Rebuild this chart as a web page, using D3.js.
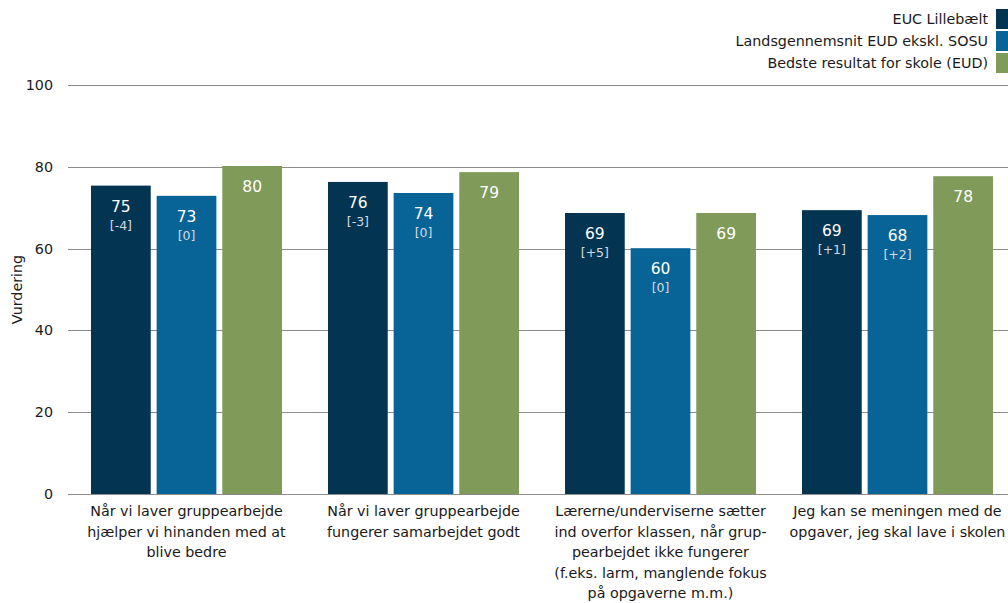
<!DOCTYPE html>
<html>
<head>
<meta charset="utf-8">
<script src="https://cdn.jsdelivr.net/npm/d3@7"></script>
<style>
  body { margin: 0; background: #fff; }
  svg { font-family: "DejaVu Sans", sans-serif; }
</style>
</head>
<body>
<div id="chart"></div>
<script>
// chart data
const categories = [
    ['Når vi laver gruppearbejde', 'hjælper vi hinanden med at', 'blive bedre'],
    ['Når vi laver gruppearbejde', 'fungerer samarbejdet godt'],
    ['Lærerne/underviserne sætter', 'ind overfor klassen, når grup-', 'pearbejdet ikke fungerer', '(f.eks. larm, manglende fokus', 'på opgaverne m.m.)'],
    ['Jeg kan se meningen med de', 'opgaver, jeg skal lave i skolen']
];
const seriesNames = ['EUC Lillebælt', 'Landsgennemsnit EUD ekskl. SOSU', 'Bedste resultat for skole (EUD)'];
const seriesColors = ['#033452', '#086497', '#7f9a59'];
const eucVals = [75.4, 76.3, 68.7, 69.4];
const landsVals = [72.9, 73.6, 60.1, 68.2];
const bedsteVals = [80.2, 78.7, 68.7, 77.7];
const eucDiff = ['[-4]', '[-3]', '[+5]', '[+1]'];
const landsDiff = ['[0]', '[0]', '[0]', '[+2]'];
const yTicks = [0, 20, 40, 60, 80, 100];

const width = 1008, height = 603;
const margin = { left: 68, top: 85, bottom: 109 };

const svg = d3.select('#chart')
    .append('svg')
    .attr('width', width)
    .attr('height', height);

const x0 = d3.scaleBand()
    .domain(d3.range(categories.length))
    .range([margin.left, margin.left + 237 * categories.length]);

const x1 = d3.scaleBand()
    .domain([0, 1, 2])
    .range([23, 237 - 23])
    .paddingInner(0.09);

const y = d3.scaleLinear()
    .domain([0, 100])
    .range([height - margin.bottom, margin.top]);

// gridlines + y ticks
svg.append('g')
    .selectAll('line')
    .data(yTicks)
    .join('line')
    .attr('x1', margin.left)
    .attr('x2', width)
    .attr('y1', d => Math.round(y(d)) + 0.5)
    .attr('y2', d => Math.round(y(d)) + 0.5)
    .attr('stroke', '#8c8c8c')
    .attr('stroke-width', 1);

svg.append('g')
    .selectAll('text')
    .data(yTicks)
    .join('text')
    .attr('x', 53)
    .attr('y', d => y(d))
    .attr('dy', '0.35em')
    .attr('text-anchor', 'end')
    .style('font-size', '14.3px')
    .style('fill', '#1a1a1a')
    .text(d => d);

svg.append('text')
    .attr('transform', `translate(22, ${y(50)}) rotate(-90)`)
    .attr('text-anchor', 'middle')
    .style('font-size', '14.3px')
    .style('fill', '#1a1a1a')
    .text('Vurdering');

// build rows
const rows = categories.map((c, i) => ({
    vals: [eucVals[i], landsVals[i], bedsteVals[i]],
    diffs: [eucDiff[i], landsDiff[i], null]
}));

const group = svg.append('g')
    .selectAll('g')
    .data(rows)
    .join('g')
    .attr('transform', (d, i) => `translate(${x0(i)},0)`);

const bar = group.selectAll('g')
    .data(d => d.vals.map((v, j) => ({ v, j, diff: d.diffs[j] })))
    .join('g');

bar.append('rect')
    .attr('x', d => x1(d.j))
    .attr('y', d => y(d.v))
    .attr('width', x1.bandwidth())
    .attr('height', d => y(0) - y(d.v))
    .attr('fill', d => seriesColors[d.j]);

bar.append('text')
    .attr('x', d => x1(d.j) + x1.bandwidth() / 2)
    .attr('y', d => y(d.v) + 26)
    .attr('text-anchor', 'middle')
    .style('font-size', '15.5px')
    .style('fill', '#fff')
    .text(d => Math.round(d.v));

bar.filter(d => d.diff)
    .append('text')
    .attr('x', d => x1(d.j) + x1.bandwidth() / 2)
    .attr('y', d => y(d.v) + 44)
    .attr('text-anchor', 'middle')
    .style('font-size', '12.5px')
    .style('fill', '#d4dbe2')
    .text(d => d.diff);

// x labels
svg.append('g')
    .selectAll('text')
    .data(categories)
    .join('text')
    .attr('x', (d, i) => x0(i) + x0.bandwidth() / 2)
    .attr('y', 516)
    .attr('text-anchor', 'middle')
    .style('font-size', '14.3px')
    .style('fill', '#1a1a1a')
    .each(function(d) {
        const t = d3.select(this);
        d.forEach((line, k) => {
            t.append('tspan')
                .attr('x', t.attr('x'))
                .attr('dy', k === 0 ? 0 : 20.5)
                .text(line);
        });
    });

// legend
const legend = svg.append('g')
    .selectAll('g')
    .data(seriesNames)
    .join('g')
    .attr('transform', (d, i) => `translate(0, ${19 + i * 22})`);

legend.append('text')
    .attr('x', 988)
    .attr('dy', '0.35em')
    .attr('text-anchor', 'end')
    .style('font-size', '14.3px')
    .style('fill', '#1a1a1a')
    .text(d => d);

legend.append('rect')
    .attr('x', 996)
    .attr('y', -10)
    .attr('width', 14)
    .attr('height', 20)
    .attr('fill', (d, i) => seriesColors[i]);
</script>
</body>
</html>
